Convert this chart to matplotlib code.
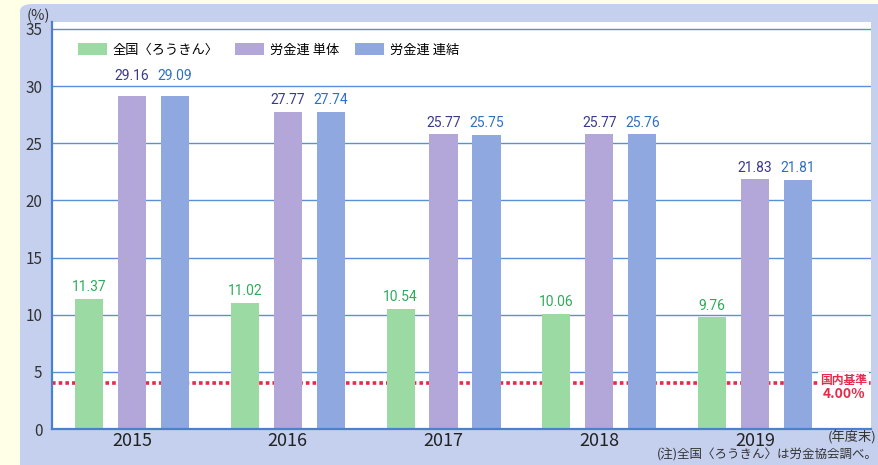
import matplotlib.pyplot as plt
import numpy as np
from matplotlib.patches import FancyBboxPatch, Patch

plt.rcParams['font.family'] = ['Noto Sans CJK JP', 'DejaVu Sans']

# データ
years = ["2015", "2016", "2017", "2018", "2019"]
zenkoku = [11.37, 11.02, 10.54, 10.06, 9.76]
rokinren_tantai = [29.16, 27.77, 25.77, 25.77, 21.83]
rokinren_renketsu = [29.09, 27.74, 25.75, 25.76, 21.81]
series_names = ["全国〈ろうきん〉", "労金連 単体", "労金連 連結"]
kijun = 4.00

bar_colors = ["#9bdba3", "#b3a6d9", "#8fa9e0"]
label_colors = ["#2eaa5a", "#3a3a8c", "#2f70c0"]
grid_color = "#5b8fd6"

fig = plt.figure(figsize=(8.79, 4.65), dpi=100)
fig.patch.set_facecolor("#fffee6")

# 背景パネル
W, H = 879, 465
panel = FancyBboxPatch((20 / W, -20 / H), 900 / W, (20 + 461) / H,
                       boxstyle="round,pad=0,rounding_size=0.015",
                       transform=fig.transFigure, facecolor="#c5d0ee",
                       edgecolor="none", zorder=-10)
fig.patches.append(panel)

ax = fig.add_axes([52 / W, (H - 429) / H, (871 - 52) / W, (429 - 22) / H])
ax.set_facecolor("white")
ax.set_zorder(1)

x = np.arange(len(years))
offset = 0.276
width = 0.18
series = [zenkoku, rokinren_tantai, rokinren_renketsu]
for i, (vals, col, lcol) in enumerate(zip(series, bar_colors, label_colors)):
    pos = x + (i - 1) * offset
    ax.bar(pos, vals, width=width, color=col, zorder=3)
    for p, v in zip(pos, vals):
        ly = v + 0.4
        # 目盛線と重なるラベルは線の上へ
        if np.floor((ly + 1.0) / 5) > np.floor(ly / 5):
            ly = np.floor((ly + 1.0) / 5) * 5 + 0.3
        ax.text(p, ly, f"{v:.2f}", ha="center", va="bottom",
                fontsize=10, color=lcol,
                family=["Roboto", "DejaVu Sans"], zorder=4)

# 目盛線
for yv in range(5, 40, 5):
    ax.axhline(yv, color=grid_color, lw=1, zorder=1)

# 国内基準
ax.axhline(kijun, color="#e8294a", lw=2.6, linestyle=(0, (1, 0.85)), zorder=2)
ax.text(4.72, kijun - 0.3, "国内基準", ha="right", va="bottom", fontsize=8.5,
        color="#e8294a", fontweight="bold", zorder=5,
        bbox=dict(facecolor="white", edgecolor="none", pad=1.5))
ax.text(4.71, kijun - 0.35, "4.00%", ha="right", va="top", fontsize=10,
        color="#e8294a", fontweight="bold", zorder=5,
        bbox=dict(facecolor="white", edgecolor="none", pad=0.5))

ax.set_xlim(-0.514, 4.745)
ax.set_ylim(0, 35.6)
ax.set_yticks(range(0, 40, 5))
ax.set_xticks(x)
ax.set_xticklabels(years, fontsize=13, color="#222222")
ax.tick_params(axis="y", length=0, pad=7, labelsize=11, labelcolor="#333333")
ax.tick_params(axis="x", length=0, pad=2)
for s in ["top", "right"]:
    ax.spines[s].set_visible(False)
for s in ["left", "bottom"]:
    ax.spines[s].set_color("#4a80cc")
    ax.spines[s].set_linewidth(1.6)
    ax.spines[s].set_zorder(6)

handles = [Patch(facecolor=c, edgecolor="none") for c in bar_colors]
ax.legend(handles, series_names, loc="upper left", ncol=3, frameon=False,
          bbox_to_anchor=(0.017, 0.978), fontsize=9.5, handlelength=2.2,
          handleheight=1.05, columnspacing=1.2, handletextpad=0.45)

fig.text(27 / W, 1 - 16 / H, "(%)", fontsize=10.5, color="#333333", va="center")
fig.text(877 / W, 1 - 437 / H, "(年度末)", fontsize=9.5, color="#333333",
         ha="right", va="center")
fig.text(878 / W, 1 - 455 / H, "(注)全国〈ろうきん〉は労金協会調べ。", fontsize=9,
         color="#333333", ha="right", va="center")

fig.savefig("out.png", dpi=100, facecolor=fig.get_facecolor())
